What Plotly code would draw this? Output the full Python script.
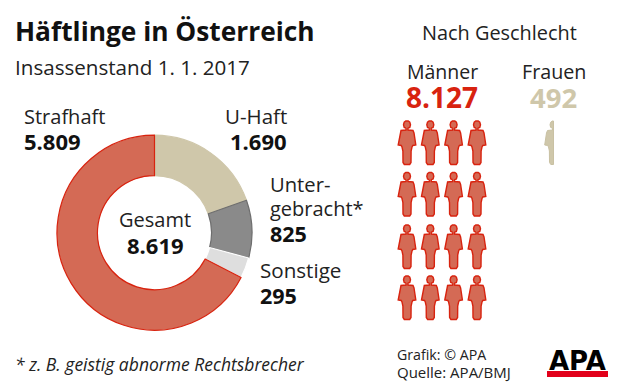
import plotly.graph_objects as go

# Data
slice_labels = ["U-Haft", "Untergebracht", "Sonstige", "Strafhaft"]
slice_values = [1690, 825, 295, 5809]
slice_fill = ["#cfc7aa", "#8a8a8a", "#dedede", "#d46a55"]
slice_line = ["#cfc7aa", "#6e6e6e", "#ffffff", "#d8230f"]

men_cols = [407, 430.3, 453.6, 477]
men_rows = [121, 172.5, 225, 276]
woman_col = 553.5
woman_row = 121

# Person silhouette relative to (centre x, top y)
person_x = [-1,-2.8,-3.5,-2.8,-1.2,1.2,2.8,3.5,2.8,1,1,6,7,8.8,5.8,5,4.1,4,2.7,-2.7,-4,-4.1,-5,-5.8,-8.8,-7,-6,-1,-1]
person_y = [7.2,6.5,3.8,1.2,0,0,1.2,3.8,6.5,7.2,9,9.5,12,24,24.5,26,30,41.5,43.5,43.5,41.5,30,26,24.5,24,12,9.5,9,7.2]
half_x = [0,-1.2,-2.8,-3.5,-2.8,-1,-1,-6,-7,-8.8,-5.8,-5,-4.1,-4,-2.7,0,0]
half_y = [0,0,1.2,3.8,6.5,7.2,9,9.5,12,24,24.5,26,30,41.5,43.5,43.5,0]

texts = [
    ("Häftlinge in Österreich", 15, 31, 26.3, "bold", "left", "#111111"),
    ("Insassenstand 1. 1. 2017", 15, 67, 20.6, "normal", "left", "#222222"),
    ("Nach Geschlecht", 499.5, 32, 19.9, "normal", "center", "#222222"),
    ("Männer", 442.5, 71, 19.5, "normal", "center", "#222222"),
    ("8.127", 442, 97, 28, "bold", "center", "#d8230f"),
    ("Frauen", 554, 71, 19.7, "normal", "center", "#222222"),
    ("492", 553.5, 97, 27.5, "bold", "center", "#cfc7aa"),
    ("Strafhaft", 24, 116, 20, "normal", "left", "#222222"),
    ("5.809", 24, 141, 22, "bold", "left", "#111111"),
    ("U-Haft", 225, 116, 20.5, "normal", "left", "#222222"),
    ("1.690", 230, 141, 22, "bold", "left", "#111111"),
    ("Unter-", 270, 184, 20.2, "normal", "left", "#222222"),
    ("gebracht*", 270, 208, 20, "normal", "left", "#222222"),
    ("825", 270, 233, 21.5, "bold", "left", "#111111"),
    ("Sonstige", 260, 270, 20.6, "normal", "left", "#222222"),
    ("295", 260, 295, 21.5, "bold", "left", "#111111"),
    ("Gesamt", 155, 219, 20, "normal", "center", "#222222"),
    ("8.619", 155, 245, 22, "bold", "center", "#111111"),
    ("Grafik: © APA", 397, 354, 14.2, "normal", "left", "#222222"),
    ("Quelle: APA/BMJ", 397, 372, 15, "normal", "left", "#222222"),
]
logo_text = "APA"
footnote = "* z. B. geistig abnorme Rechtsbrecher"

W, H = 620, 388
fig = go.Figure()

cx, cy, R = 154.5, 232.7, 97.5
fig.add_trace(go.Pie(
    labels=slice_labels, values=slice_values, sort=False, direction="clockwise",
    rotation=0, hole=0.585, textinfo="none", showlegend=False, hoverinfo="label+value",
    marker=dict(colors=slice_fill, line=dict(color=slice_line, width=1.2)),
    domain=dict(x=[(cx - R) / W, (cx + R) / W], y=[1 - (cy + R) / H, 1 - (cy - R) / H]),
))

xs, ys = [], []
for top in men_rows:
    for c in men_cols:
        xs += [c + v for v in person_x] + [None]
        ys += [top + v for v in person_y] + [None]
fig.add_trace(go.Scatter(x=xs, y=ys, mode="lines", fill="toself", fillcolor="#d46a55",
                         line=dict(color="#d8230f", width=1.4), hoverinfo="skip", showlegend=False))
fig.add_trace(go.Scatter(x=[woman_col + v for v in half_x], y=[woman_row + v for v in half_y],
                         mode="lines", fill="toself", fillcolor="#cfc7aa",
                         line=dict(color="#c9c1a3", width=1), hoverinfo="skip", showlegend=False))

fig.add_shape(type="rect", x0=547, x1=608, y0=371, y1=377, xref="x", yref="y",
              fillcolor="#e2001a", line_width=0)

for t, x, y, size, weight, anchor, color in texts:
    bold = weight == "bold"
    fig.add_annotation(x=x, y=y, xref="x", yref="y", text=f"<b>{t}</b>" if bold else t,
                       showarrow=False, xanchor=anchor, yanchor="middle",
                       xshift=-2.5 if anchor == "left" else 0,
                       font=dict(family="Open Sans", size=size, color=color))
fig.add_annotation(x=15, y=364, xref="x", yref="y", text=f"<i>{footnote}</i>",
                   showarrow=False, xanchor="left", yanchor="middle", xshift=-2.5,
                   font=dict(family="Open Sans", size=17.5, color="#222222"))
fig.add_annotation(x=577.5, y=360.5, xref="x", yref="y", text=f"<b>{logo_text}</b>",
                   showarrow=False, xanchor="center", yanchor="middle",
                   font=dict(family="DejaVu Sans", size=26, color="#000000"))

fig.update_layout(
    width=W, height=H, margin=dict(l=0, r=0, t=0, b=0),
    paper_bgcolor="white", plot_bgcolor="rgba(0,0,0,0)",
    xaxis=dict(range=[0, W], visible=False, fixedrange=True),
    yaxis=dict(range=[H, 0], visible=False, fixedrange=True),
)
fig.write_html("out.html", config={"displayModeBar": False},
               post_script="document.body.style.margin='0';document.body.style.overflow='hidden';")
